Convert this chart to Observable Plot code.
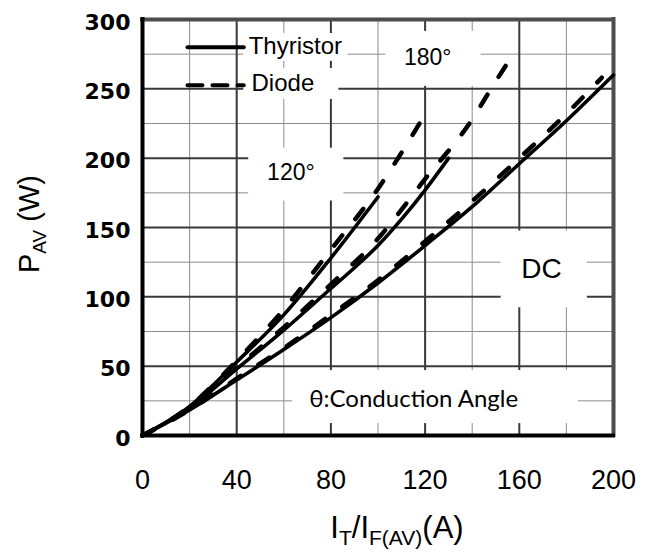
<!DOCTYPE html>
<html><head><meta charset="utf-8">
<script src="https://cdn.jsdelivr.net/npm/d3@7"></script>
<script src="https://cdn.jsdelivr.net/npm/@observablehq/plot@0.6"></script>
<style>body{margin:0;background:#fff} svg{display:block}</style>
</head><body><div id="chart"></div>
<script>
// ---- data ----
const xTicks = [0, 40, 80, 120, 160, 200];
const yTicks = [0, 50, 100, 150, 200, 250, 300];
const xMinor = [20, 60, 100, 140, 180];
const yMinor = [25, 75, 125, 175, 225, 275];

const angles = ["120°", "180°", "DC"];
// Thyristor (solid)
const t120x = [0, 20, 40, 60, 80, 100];
const t120y = [0, 21, 53, 87, 128, 172];
const t180x = [0, 20, 40, 60, 80, 90, 100, 110, 120, 130];
const t180y = [0, 20, 48, 76, 106, 121, 137, 156, 177, 200];
const tDCx  = [0, 20, 40, 60, 80, 100, 120, 140, 160, 180, 200];
const tDCy  = [0, 18.5, 40, 62, 85, 110, 137, 165, 196, 227, 260];
// Diode (dashed)
const d120x = [0, 20, 40, 60, 80, 100, 118];
const d120y = [0, 21, 54, 91, 134, 178, 226];
const d180x = [0, 20, 40, 60, 80, 100, 120, 140, 148, 157];
const d180y = [0, 20, 49, 78, 109, 142, 185, 228, 250, 274];
const dDCx  = [0, 20, 40, 60, 80, 100, 120, 140, 160, 180, 195];
const dDCy  = [0, 18.5, 41, 63, 87, 112, 140, 169, 200, 232, 258];

// annotations (data units)
const labelText = ["Thyristor", "Diode", "120°", "180°", "DC", "θ:Conduction Angle"];
const labelX = [45.1, 46.3, 63.0, 121.1, 169.4, 70.8];
const labelY = [280.4, 253.7, 189.9, 272.7, 120.4, 26.4];
const boxX1 = [43.0, 43.0, 45.1, 103.4, 152.3, 63.8];
const boxX2 = [87.2, 83.4, 85.5, 143.8, 188.9, 185.1];
const boxY1 = [269.8, 242.4, 169.1, 251.8, 92.1, 8.6];
const boxY2 = [289.9, 264.7, 207.2, 291.4, 147.5, 46.8];
const legendX = [19.1, 43.0];
const legendY = [280, 252.5];

// ---- build rows ----
const rows = (xs, ys, angle) => xs.map((x, i) => ({x, y: ys[i], angle}));
const thyristor = [...rows(t120x, t120y, angles[0]), ...rows(t180x, t180y, angles[1]), ...rows(tDCx, tDCy, angles[2])];
const diode = [...rows(d120x, d120y, angles[0]), ...rows(d180x, d180y, angles[1]), ...rows(dDCx, dDCy, angles[2])];
const ann = labelText.map((t, i) => ({t, x: labelX[i], y: labelY[i], x1: boxX1[i], x2: boxX2[i], y1: boxY1[i], y2: boxY2[i]}));
const legT = legendX.map(x => ({x, y: legendY[0]}));
const legD = legendX.map(x => ({x, y: legendY[1]}));

const ARIAL = "'Liberation Sans', Arial, sans-serif";
const big = ann.filter(d => ["120°", "180°"].includes(d.t));

const plot = Plot.plot({
  width: 651, height: 553,
  marginLeft: 142, marginRight: 38, marginTop: 19, marginBottom: 118,
  x: {domain: [0, 200]},
  y: {domain: [0, 300]},
  style: {background: "#fff", fontFamily: ARIAL, color: "#000"},
  marks: [
    Plot.ruleX(xMinor, {stroke: "#8c8c8c", strokeWidth: 1}),
    Plot.ruleY(yMinor, {stroke: "#8c8c8c", strokeWidth: 1}),
    Plot.ruleX(xTicks, {stroke: "#3a3a3a", strokeWidth: 2}),
    Plot.ruleY(yTicks, {stroke: "#3a3a3a", strokeWidth: 2}),
    Plot.rect(ann, {x1: "x1", x2: "x2", y1: "y1", y2: "y2", fill: "#fff"}),
    Plot.ruleX([200], {stroke: "#4d4d4d", strokeWidth: 4, strokeLinecap: "square"}),
    Plot.ruleY([300], {stroke: "#4d4d4d", strokeWidth: 4, strokeLinecap: "square"}),
    Plot.ruleX([0], {stroke: "#000", strokeWidth: 4, strokeLinecap: "square"}),
    Plot.ruleY([0], {stroke: "#000", strokeWidth: 4, strokeLinecap: "square"}),
    Plot.line(thyristor, {x: "x", y: "y", z: "angle", stroke: "#000", strokeWidth: 3.6, curve: "monotone-x"}),
    Plot.line(diode, {x: "x", y: "y", z: "angle", stroke: "#000", strokeWidth: 4.5, strokeDasharray: "13,21", strokeLinecap: "round", curve: "monotone-x"}),
    Plot.line(legT, {x: "x", y: "y", stroke: "#000", strokeWidth: 4}),
    Plot.line(legD, {x: "x", y: "y", stroke: "#000", strokeWidth: 4, strokeDasharray: "15,10"}),
    Plot.text(ann.filter(d => d.t === "Thyristor" || d.t === "Diode"), {x: "x", y: "y", text: "t", textAnchor: "start", fontSize: 24, fill: "#000"}),
    Plot.text(big, {x: "x", y: "y", text: "t", textAnchor: "middle", fontSize: 23, fill: "#000"}),
    Plot.text(ann.filter(d => d.t === "DC"), {x: "x", y: "y", text: "t", textAnchor: "middle", fontSize: 28, fill: "#000"}),
    Plot.text(ann.filter(d => d.t.startsWith("θ")), {x: "x", y: "y", text: "t", textAnchor: "start", fontSize: 24, fontFamily: "Lato, 'Open Sans', sans-serif", fill: "#000"}),
    Plot.axisX({ticks: xTicks, tickSize: 0, tickPadding: 34, fontSize: 27, label: null, fill: "#000"}),
    Plot.axisY({ticks: yTicks, tickSize: 0, tickPadding: 12, fontSize: 22, fontWeight: "bold", fontFamily: "'DejaVu Sans', sans-serif", dy: 3, label: null, fill: "#000"})
  ]
});
document.getElementById("chart").appendChild(plot);

// axis titles with subscripts
const svg = d3.select(plot);
const yt = svg.append("text")
  .attr("transform", "translate(39,224) rotate(-90)")
  .attr("text-anchor", "middle")
  .attr("font-family", ARIAL).attr("font-size", 29).attr("fill", "#000");
yt.append("tspan").text("P");
yt.append("tspan").attr("font-size", 19).attr("dy", 7).text("AV");
yt.append("tspan").attr("dy", -7).text(" (W)");

const xt = svg.append("text")
  .attr("x", 397).attr("y", 538)
  .attr("text-anchor", "middle")
  .attr("font-family", ARIAL).attr("font-size", 31).attr("fill", "#000");
xt.append("tspan").text("I");
xt.append("tspan").attr("font-size", 21).attr("dy", 7).text("T");
xt.append("tspan").attr("dy", -7).text("/I");
xt.append("tspan").attr("font-size", 21).attr("dy", 7).text("F(AV)");
xt.append("tspan").attr("dy", -7).text("(A)");
</script>
</body></html>
